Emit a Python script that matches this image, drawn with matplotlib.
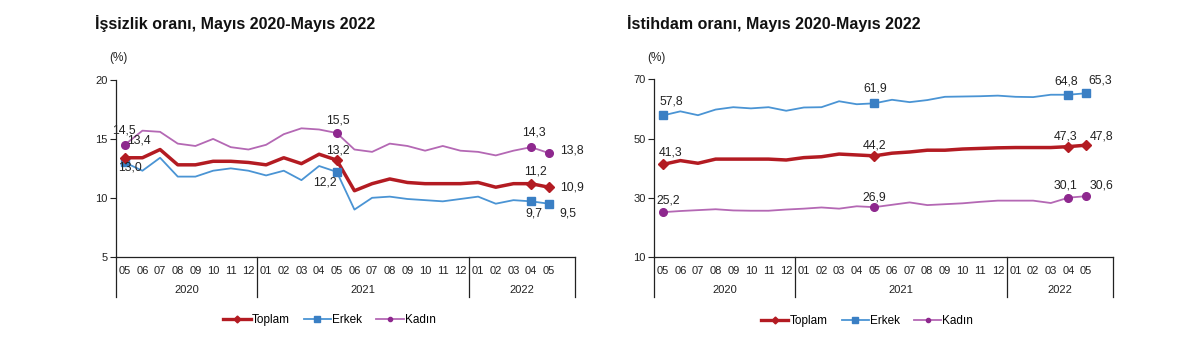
import matplotlib
matplotlib.use("Agg")
import matplotlib.pyplot as plt
from matplotlib.lines import Line2D

plt.rcParams['font.family'] = ['Liberation Sans', 'DejaVu Sans']

# aylar ve yillar
aylar = ["05", "06", "07", "08", "09", "10", "11", "12",
         "01", "02", "03", "04", "05", "06", "07", "08", "09", "10", "11", "12",
         "01", "02", "03", "04", "05"]
yillar = ["2020", "2021", "2022"]
seriler = ["Toplam", "Erkek", "Kadın"]

# issizlik orani (%)
toplamIssiz = [13.4, 13.4, 14.1, 12.8, 12.8, 13.1, 13.1, 13.0, 12.8, 13.4, 12.9, 13.7, 13.2,
               10.6, 11.2, 11.6, 11.3, 11.2, 11.2, 11.2, 11.3, 10.9, 11.2, 11.2, 10.9]
erkekIssiz = [13.0, 12.3, 13.4, 11.8, 11.8, 12.3, 12.5, 12.3, 11.9, 12.3, 11.5, 12.7, 12.2,
              9.0, 10.0, 10.1, 9.9, 9.8, 9.7, 9.9, 10.1, 9.5, 9.8, 9.7, 9.5]
kadinIssiz = [14.5, 15.7, 15.6, 14.6, 14.4, 15.0, 14.3, 14.1, 14.5, 15.4, 15.9, 15.8, 15.5,
              14.1, 13.9, 14.6, 14.4, 14.0, 14.4, 14.0, 13.9, 13.6, 14.0, 14.3, 13.8]

# istihdam orani (%)
toplamIst = [41.3, 42.6, 41.7, 43.1, 43.1, 43.1, 43.1, 42.8, 43.6, 43.9, 44.8, 44.5, 44.2,
             45.1, 45.5, 46.1, 46.1, 46.5, 46.7, 46.9, 47.0, 47.0, 47.0, 47.3, 47.8]
erkekIst = [57.8, 59.2, 57.9, 59.8, 60.6, 60.2, 60.6, 59.4, 60.5, 60.6, 62.6, 61.6, 61.9,
            63.1, 62.3, 63.0, 64.1, 64.2, 64.3, 64.5, 64.1, 64.0, 64.8, 64.8, 65.3]
kadinIst = [25.2, 25.6, 25.9, 26.2, 25.8, 25.7, 25.7, 26.1, 26.4, 26.8, 26.4, 27.2, 26.9,
            27.7, 28.5, 27.6, 27.9, 28.2, 28.7, 29.1, 29.1, 29.1, 28.3, 30.1, 30.6]

etiketli = [0, 12, 23, 24]

KIRMIZI = "#b31b22"
MAVI = "#4a94d4"
MAVI_KOYU = "#3a7fc4"
MOR = "#b468b4"
MOR_KOYU = "#8e288e"
YAZI = "#222222"


def fmt(v):
    return ("%.1f" % v).replace(".", ",")


def cizPanel(ax, toplam, erkek, kadin, ylim, yticks, ofsetler):
    x = list(range(len(aylar)))
    ax.plot(x, kadin, color=MOR, lw=1.3, zorder=2)
    ax.plot(x, erkek, color=MAVI, lw=1.3, zorder=2)
    ax.plot(x, toplam, color=KIRMIZI, lw=2.5, zorder=3)
    ax.plot([x[i] for i in etiketli], [kadin[i] for i in etiketli], 'o', ms=5.5,
            color=MOR_KOYU, zorder=4)
    ax.plot([x[i] for i in etiketli], [erkek[i] for i in etiketli], 's', ms=5.5,
            color=MAVI_KOYU, zorder=4)
    ax.plot([x[i] for i in etiketli], [toplam[i] for i in etiketli], 'D', ms=5.5,
            color=KIRMIZI, zorder=5)

    # deger etiketleri
    for seri, degerler in (("toplam", toplam), ("erkek", erkek), ("kadin", kadin)):
        for k, i in enumerate(etiketli):
            dx, dy, ha = ofsetler[seri][k]
            ax.annotate(fmt(degerler[i]), (x[i], degerler[i]), xytext=(dx, dy),
                        textcoords='offset pixels', ha=ha, va='center',
                        fontsize=8.8, color=YAZI, zorder=6)

    ax.set_xlim(-0.5, 25.5)
    ax.set_ylim(*ylim)
    ax.set_yticks(yticks)
    ax.tick_params(axis='y', direction='out', length=4, width=0.8,
                   labelsize=8, pad=2, colors=YAZI)
    ax.set_xticks([])
    for s in ("top", "right"):
        ax.spines[s].set_visible(False)
    for s in ("left", "bottom"):
        ax.spines[s].set_color(YAZI)
        ax.spines[s].set_linewidth(0.9)

    tr = ax.get_xaxis_transform()
    h = ax.get_window_extent().height
    # ay etiketleri
    for i, ay in enumerate(aylar):
        ax.text(i, -14 / h, ay, transform=tr, ha='center', va='center',
                fontsize=8, color=YAZI)
    # yil kutusu
    for sinir in (-0.5, 7.5, 19.5, 25.5):
        ax.plot([sinir, sinir], [0, -40 / h], transform=tr, color=YAZI,
                lw=0.9, clip_on=False)
    for yil, orta in zip(yillar, (3.5, 13.5, 22.5)):
        ax.text(orta, -33 / h, yil, transform=tr, ha='center', va='center',
                fontsize=8, color=YAZI)

    ax.text(0.005, 1.122, "(%)", transform=ax.transAxes, ha='center', va='center',
            fontsize=8.5, color=YAZI)

    tutamaklar = [
        Line2D([], [], color=KIRMIZI, lw=2.4, marker='D', ms=3.5),
        Line2D([], [], color=MAVI, lw=1.3, marker='s', ms=4, mfc=MAVI_KOYU, mec=MAVI_KOYU),
        Line2D([], [], color=MOR, lw=1.3, marker='o', ms=3, mfc=MOR_KOYU, mec=MOR_KOYU),
    ]
    ax.legend(tutamaklar, seriler, loc='center', bbox_to_anchor=(0.465, -0.357),
              ncol=3, frameon=False, fontsize=8.5, handlelength=2.3,
              handletextpad=0.1, columnspacing=1.2)


fig = plt.figure(figsize=(12, 3.55), dpi=100)
fig.patch.set_facecolor("white")
axSol = fig.add_axes([0.0966, 0.2769, 0.3828, 0.4977])
axSag = fig.add_axes([0.5449, 0.2752, 0.3822, 0.5014])

ofsetSol = {
    "kadin": [(-1, 14, 'center'), (1, 13, 'center'), (3, 15, 'center'), (11, 3, 'left')],
    "toplam": [(14, 17, 'center'), (1, 10, 'center'), (4, 12, 'center'), (11, 0, 'left')],
    "erkek": [(5, -5, 'center'), (-12, -11, 'center'), (3, -12, 'center'), (11, -10, 'left')],
}
ofsetSag = {
    "erkek": [(9, 14, 'center'), (1, 15, 'center'), (-2, 13, 'center'), (2, 13, 'left')],
    "toplam": [(8, 12, 'center'), (0, 10, 'center'), (-3, 10, 'center'), (4, 9, 'left')],
    "kadin": [(6, 12, 'center'), (0, 10, 'center'), (-3, 12, 'center'), (4, 11, 'left')],
}

cizPanel(axSol, toplamIssiz, erkekIssiz, kadinIssiz, (5, 20), [5, 10, 15, 20], ofsetSol)
cizPanel(axSag, toplamIst, erkekIst, kadinIst, (10, 70), [10, 30, 50, 70], ofsetSag)

fig.text(95 / 1200, 1 - 23 / 355, "İşsizlik oranı, Mayıs 2020-Mayıs 2022",
         ha='left', va='center', fontsize=11.5, fontweight='bold', color="#111111")
fig.text(627 / 1200, 1 - 23 / 355, "İstihdam oranı, Mayıs 2020-Mayıs 2022",
         ha='left', va='center', fontsize=11.5, fontweight='bold', color="#111111")

fig.savefig("out.png", dpi=100)
